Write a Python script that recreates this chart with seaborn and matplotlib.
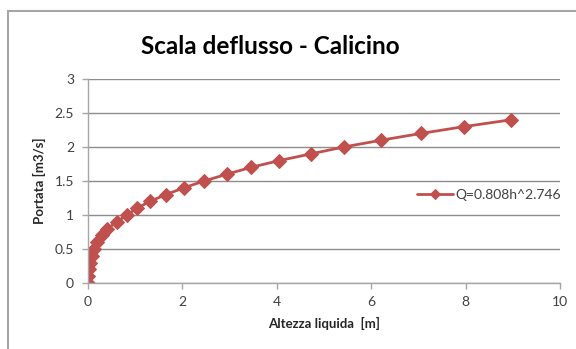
import matplotlib
matplotlib.use("Agg")
import matplotlib.pyplot as plt
import seaborn as sns
import pandas as pd
from matplotlib.patches import Rectangle

# Stage-discharge rating points
altezza = [0, 0.005, 0.02, 0.04, 0.08, 0.13, 0.20, 0.29, 0.41, 0.62, 0.82,
           1.04, 1.31, 1.65, 2.03, 2.46, 2.94, 3.45, 4.05, 4.73, 5.42,
           6.21, 7.06, 7.97, 8.96]
portata = [0.0, 0.1, 0.2, 0.3, 0.4, 0.5, 0.6, 0.7, 0.8, 0.9, 1.0,
           1.1, 1.2, 1.3, 1.4, 1.5, 1.6, 1.7, 1.8, 1.9, 2.0,
           2.1, 2.2, 2.3, 2.4]
serie = "Q=0.808h^2.746"
x_ticks = [0, 2, 4, 6, 8, 10]
y_ticks = [0, 0.5, 1, 1.5, 2, 2.5, 3]

df = pd.DataFrame({"Altezza": altezza, "Portata": portata, "Serie": serie})

sns.set_theme(style="white")
plt.rcParams["font.family"] = ["Lato", "DejaVu Sans"]

fig = plt.figure(figsize=(5.76, 3.49), dpi=100)
fig.patches.append(Rectangle((8 / 576, -0.05), 1.2, 1 - 11 / 349 + 0.05,
                             transform=fig.transFigure, fill=False,
                             edgecolor="#a6a6a6", linewidth=1.5))
ax = fig.add_axes([88 / 576, 1 - 283 / 349, (560 - 88) / 576, (283 - 79) / 349])

red = "#c0504d"
sns.lineplot(data=df, x="Altezza", y="Portata", hue="Serie", palette=[red],
             marker="D", markersize=7.5, markeredgecolor=red, linewidth=2,
             sort=False, ax=ax)

ax.set_xlim(0, 10)
ax.set_ylim(0, 3)
ax.set_xticks(x_ticks)
ax.set_yticks(y_ticks)
ax.set_xticklabels([str(t) for t in x_ticks])
ax.set_yticklabels([f"{t:g}" for t in y_ticks])
ax.yaxis.grid(True, color="#8c8c8c", linewidth=1)
ax.xaxis.grid(False)
for s in ["top", "right"]:
    ax.spines[s].set_visible(False)
for s in ["left", "bottom"]:
    ax.spines[s].set_color("#a6a6a6")
    ax.spines[s].set_linewidth(1)
ax.tick_params(axis="both", which="both", length=4, width=1, color="#a6a6a6",
               labelsize=10, labelcolor="#404040", direction="out",
               bottom=True, left=True)
ax.tick_params(axis="y", pad=6)
ax.tick_params(axis="x", pad=5)

ax.set_xlabel("Altezza liquida  [m]", fontsize=9.5, fontweight="bold",
              color="#262626", labelpad=7)
ax.set_ylabel("Portata [m3/s]", fontsize=9.5, fontweight="bold",
              color="#262626", labelpad=6)

fig.text(270 / 576, 1 - 46 / 349, "Scala deflusso - Calicino", ha="center",
         va="center", fontsize=17.5, fontweight="bold", color="black")

leg = ax.legend(loc="center left", bbox_to_anchor=(0.685, 0.43), frameon=False,
                fontsize=10, handlelength=2.6, handletextpad=0.15,
                borderaxespad=0)
for t in leg.get_texts():
    t.set_color("#404040")
for h in leg.get_lines():
    h.set_markersize(5)

fig.savefig("out.png", dpi=100)
